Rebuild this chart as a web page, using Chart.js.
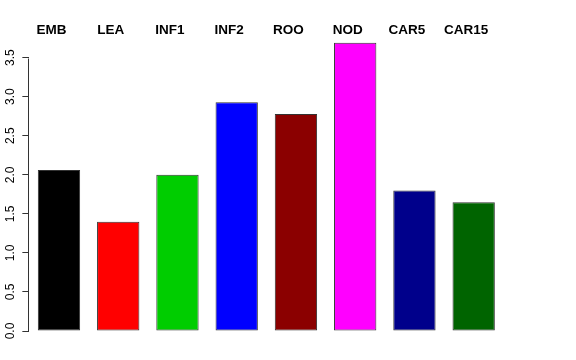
<!DOCTYPE html>
<html>
<head>
<meta charset="utf-8">
<script src="https://cdn.jsdelivr.net/npm/chart.js@4"></script>
<style>
  html, body { margin: 0; padding: 0; background: #ffffff; }
  #wrap { width: 576px; height: 360px; position: relative; }
</style>
</head>
<body>
<div id="wrap"><canvas id="c" width="576" height="360"></canvas></div>
<script>
const categories = ['EMB', 'LEA', 'INF1', 'INF2', 'ROO', 'NOD', 'CAR5', 'CAR15'];
const values = [2.06, 1.40, 2.00, 2.93, 2.78, 3.69, 1.80, 1.65];
const barColors = ['#000000', '#FF0000', '#00CD00', '#0000FF', '#8B0000', '#FF00FF', '#00008B', '#006400'];
const yTickValues = [0, 0.5, 1, 1.5, 2, 2.5, 3, 3.5];
const yTickLabels = ['0.0', '0.5', '1.0', '1.5', '2.0', '2.5', '3.0', '3.5'];

const bgPlugin = {
  id: 'bg',
  beforeDraw(chart) {
    const ctx = chart.ctx;
    ctx.save();
    ctx.fillStyle = '#ffffff';
    ctx.fillRect(0, 0, chart.width, chart.height);
    ctx.restore();
  }
};

const decoPlugin = {
  id: 'deco',
  afterDraw(chart) {
    const ctx = chart.ctx;
    const y = chart.scales.y;
    const x = chart.scales.x;
    ctx.save();
    // axis line from 0 to 3.5
    const y0 = Math.round(y.getPixelForValue(yTickValues[0])) + 0.5;
    const y1 = Math.round(y.getPixelForValue(yTickValues[yTickValues.length - 1])) + 0.5;
    ctx.strokeStyle = '#333333';
    ctx.lineWidth = 1;
    ctx.beginPath();
    ctx.moveTo(28.5, y0);
    ctx.lineTo(28.5, y1);
    ctx.stroke();
    // rotated tick labels
    ctx.fillStyle = '#000000';
    ctx.font = '12px "Liberation Sans", Arial, sans-serif';
    ctx.textAlign = 'center';
    ctx.textBaseline = 'alphabetic';
    yTickValues.forEach((v, i) => {
      const py = y.getPixelForValue(v);
      ctx.save();
      ctx.translate(13.5, py);
      ctx.rotate(-Math.PI / 2);
      ctx.fillText(yTickLabels[i], 0, 0);
      ctx.restore();
    });
    // top category labels
    ctx.font = 'bold 13.5px "Liberation Sans", Arial, sans-serif';
    ctx.textAlign = 'center';
    categories.forEach((c, i) => {
      const px = x.getPixelForValue(i) - 7.5;
      ctx.fillText(c, px, 34.3);
    });
    ctx.restore();
  }
};

new Chart(document.getElementById('c'), {
  type: 'bar',
  data: {
    labels: categories,
    datasets: [{
      data: values,
      backgroundColor: barColors,
      borderColor: '#333333',
      borderWidth: 1,
      borderSkipped: false,
      categoryPercentage: 1.0,
      barPercentage: 1 / 1.4
    }]
  },
  options: {
    responsive: false,
    animation: false,
    devicePixelRatio: 1,
    layout: { padding: { left: 0, right: 72.7, top: 18.6, bottom: 29 } },
    plugins: { legend: { display: false }, tooltip: { enabled: false }, title: { display: false } },
    scales: {
      x: { display: false },
      y: {
        min: 0,
        max: 4,
        afterBuildTicks(scale) {
          scale.ticks = yTickValues.map(v => ({ value: v }));
        },
        afterFit(scale) { scale.width = 29.35; },
        ticks: { display: false },
        grid: { drawOnChartArea: false, drawTicks: true, tickLength: 7, color: '#333333' },
        border: { display: false }
      }
    }
  },
  plugins: [bgPlugin, decoPlugin]
});
</script>
</body>
</html>
